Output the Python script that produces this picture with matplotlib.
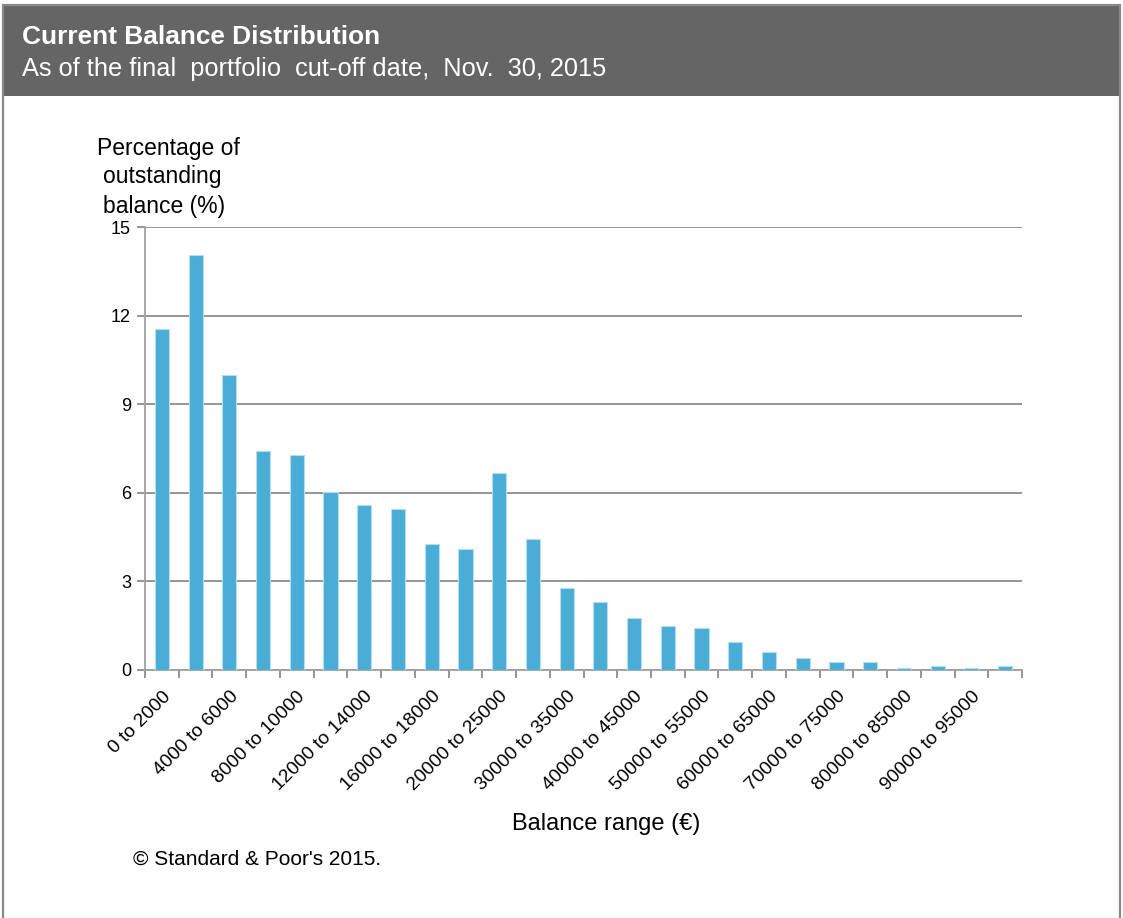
import matplotlib.pyplot as plt
from matplotlib.patches import Rectangle

plt.rcParams['font.family'] = ['Liberation Sans', 'DejaVu Sans']

# balance ranges (EUR)
ranges = ['0 to 2000', '2000 to 4000', '4000 to 6000', '6000 to 8000', '8000 to 10000',
          '10000 to 12000', '12000 to 14000', '14000 to 16000', '16000 to 18000',
          '18000 to 20000', '20000 to 25000', '25000 to 30000', '30000 to 35000',
          '35000 to 40000', '40000 to 45000', '45000 to 50000', '50000 to 55000',
          '55000 to 60000', '60000 to 65000', '65000 to 70000', '70000 to 75000',
          '75000 to 80000', '80000 to 85000', '85000 to 90000', '90000 to 95000',
          'Over 95000']
# percentage of outstanding balance
pct = [11.54, 14.05, 9.98, 7.40, 7.27, 6.04, 5.57, 5.44, 4.28, 4.09, 6.66, 4.42, 2.79,
       2.31, 1.77, 1.50, 1.43, 0.96, 0.62, 0.42, 0.28, 0.28, 0.08, 0.15, 0.08, 0.15]
yticks = [0, 3, 6, 9, 12, 15]

W, H = 1123, 918
fig = plt.figure(figsize=(W / 100, H / 100), dpi=100)

# header band + frame
fig.patches.append(Rectangle((3 / W, 1 - 96 / H), 1117 / W, 91 / H, transform=fig.transFigure,
                             facecolor='#656565', edgecolor='none', zorder=0))
fig.patches.append(Rectangle((3 / W, -0.01), 1117 / W, 1 - 5 / H + 0.01, transform=fig.transFigure,
                             facecolor='none', edgecolor='#8a8a8a', linewidth=1.6, zorder=1))
fig.text(22 / W, 1 - 37 / H, 'Current Balance Distribution', color='white', fontsize=18.9,
         fontweight='bold', va='center', ha='left')
fig.text(22 / W, 1 - 69 / H, 'As of the final  portfolio  cut-off date,  Nov.  30, 2015', color='white',
         fontsize=18.3, va='center', ha='left')

ax = fig.add_axes([145 / W, 1 - 670 / H, 877 / W, 443 / H])
x = list(range(len(pct)))
ax.bar(x, pct, width=0.42, color='#4aadd6', edgecolor='#b5dcef', linewidth=0.8, zorder=3)

ax.set_xlim(-0.5, len(pct) - 0.5)
ax.set_ylim(0, 15)
ax.set_yticks(yticks)
ax.set_yticklabels([str(v) for v in yticks], fontsize=13)
ax.yaxis.grid(True, color='#8c8c8c', linewidth=1.3, zorder=1)
ax.tick_params(axis='y', length=6, width=1.3, color='#8c8c8c', pad=4)

ax.set_xticks([i - 0.5 for i in range(len(pct) + 1)], minor=True)
ax.set_xticks(x[::2])
ax.set_xticklabels(ranges[::2], rotation=45, ha='right', rotation_mode='anchor', fontsize=13.8)
ax.tick_params(axis='x', which='major', length=0, pad=13)
ax.tick_params(axis='x', which='minor', length=6, width=1.3, color='#8c8c8c')

for s in ['top', 'right']:
    ax.spines[s].set_visible(False)
for s in ['left', 'bottom']:
    ax.spines[s].set_color('#a0a0a0')
    ax.spines[s].set_linewidth(1.3)

fig.text(97 / W, 1 - 148 / H, 'Percentage of', fontsize=16.5, va='center', ha='left')
fig.text(103 / W, 1 - 177 / H, 'outstanding', fontsize=16.5, va='center', ha='left')
fig.text(103 / W, 1 - 206 / H, 'balance (%)', fontsize=16.5, va='center', ha='left')

fig.text(606 / W, 1 - 824 / H, 'Balance range (€)', fontsize=17, va='center', ha='center')
fig.text(133 / W, 1 - 859 / H, '© Standard & Poor\'s 2015.', fontsize=15, va='center', ha='left')

fig.savefig('out.png', dpi=100)
